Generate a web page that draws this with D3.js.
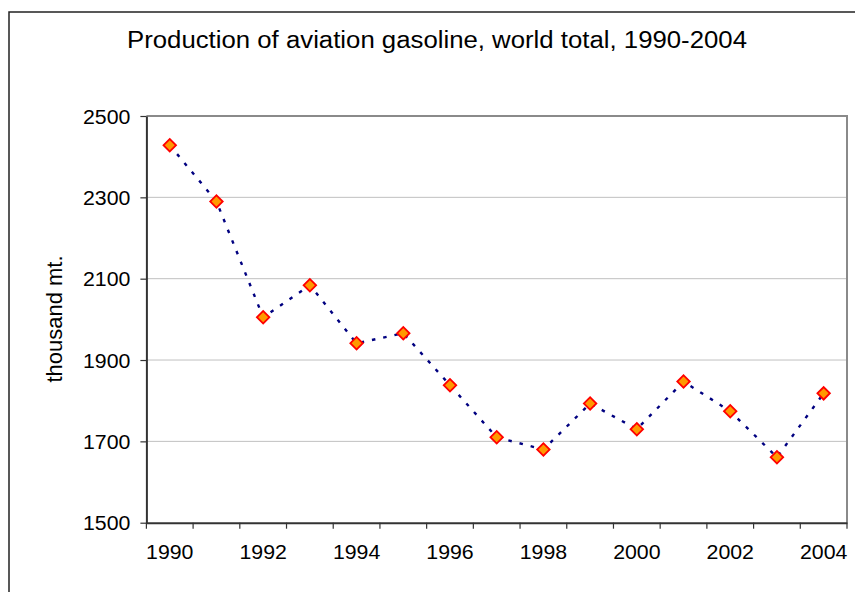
<!DOCTYPE html>
<html>
<head>
<meta charset="utf-8">
<script src="https://cdn.jsdelivr.net/npm/d3@7"></script>
<style>
  html, body { margin: 0; padding: 0; background: #fff; }
  svg { display: block; font-family: "Liberation Sans", Arial, sans-serif; }
</style>
</head>
<body>
<svg id="chart" width="855" height="592"></svg>
<script>
// World production of aviation gasoline, thousand metric tons
const years = [1990, 1991, 1992, 1993, 1994, 1995, 1996, 1997, 1998, 1999, 2000, 2001, 2002, 2003, 2004];
const production = [2428, 2290, 2005, 2084, 1941, 1966, 1838, 1710, 1680, 1793, 1730, 1847, 1774, 1661, 1818];
const yTicks = [1500, 1700, 1900, 2100, 2300, 2500];
const xTickLabels = [1990, 1992, 1994, 1996, 1998, 2000, 2002, 2004];

const titleText = "Production of aviation gasoline, world total, 1990-2004";
const yTitle = "thousand mt.";

const svg = d3.select("#chart");
const plot = { left: 146.4, right: 847, top: 116, bottom: 522.7 };

// outer chart frame (runs past the right and bottom edges)
svg.append("rect")
  .attr("x", 9).attr("y", 12)
  .attr("width", 900).attr("height", 700)
  .attr("fill", "#fff")
  .attr("stroke", "#222").attr("stroke-width", 1.5);

const x = d3.scaleBand().domain(years).range([plot.left, plot.right]);
const y = d3.scaleLinear().domain([1500, 2500]).range([plot.bottom, plot.top]);

// horizontal gridlines
svg.append("g")
  .selectAll("line")
  .data(yTicks.filter(v => v > 1500 && v < 2500))
  .join("line")
  .attr("x1", plot.left).attr("x2", plot.right)
  .attr("y1", d => y(d)).attr("y2", d => y(d))
  .attr("stroke", "#c0c0c0").attr("stroke-width", 1);

// plot area border, top and right
svg.append("path")
  .attr("d", `M${plot.left},${y(2500)}H${plot.right}V${plot.bottom}`)
  .attr("fill", "none")
  .attr("stroke", "#8a8a8a").attr("stroke-width", 2);

// y axis
const yAxis = svg.append("g")
  .attr("transform", `translate(${plot.left},0)`)
  .call(d3.axisLeft(y).tickValues(yTicks).tickSize(6).tickSizeOuter(0).tickPadding(10).tickFormat(d3.format("d")));
yAxis.select(".domain").attr("stroke", "#333").attr("stroke-width", 2);
yAxis.selectAll(".tick line").attr("stroke", "#333").attr("stroke-width", 1.2);
yAxis.selectAll(".tick text")
  .attr("class", "stretch")
  .attr("font-size", 20).attr("fill", "#000")
  .attr("font-family", "'Liberation Sans', Arial, sans-serif")
  .attr("dy", "0.36em");

// x axis: ticks sit on category boundaries, labels on every second category
const xAxis = svg.append("g")
  .attr("transform", `translate(0,${plot.bottom})`)
  .call(d3.axisBottom(x).tickValues(xTickLabels).tickSize(0).tickSizeOuter(0).tickPadding(0));
xAxis.select(".domain").attr("stroke", "#333").attr("stroke-width", 2);
xAxis.selectAll(".tick text")
  .attr("class", "stretch")
  .attr("font-size", 20).attr("fill", "#000")
  .attr("font-family", "'Liberation Sans', Arial, sans-serif")
  .attr("y", 36.6).attr("dy", null);

const boundaries = years.map(d => x(d)).concat([x.range()[1]]);
xAxis.selectAll(".boundary")
  .data(boundaries)
  .join("line")
  .attr("class", "boundary")
  .attr("x1", d => d).attr("x2", d => d)
  .attr("y1", 0).attr("y2", 6)
  .attr("stroke", "#333").attr("stroke-width", 1.2);

// data line
const cx = d => x(d) + x.bandwidth() / 2;
const line = d3.line()
  .x((d, i) => cx(years[i]))
  .y(d => y(d));

svg.append("path")
  .datum(production)
  .attr("d", line)
  .attr("fill", "none")
  .attr("stroke", "#000080")
  .attr("stroke-width", 2.4)
  .attr("stroke-dasharray", "3.5,8");

// diamond markers
const diamond = d3.symbol().type(d3.symbolSquare).size(78);
svg.append("g")
  .selectAll("path")
  .data(production)
  .join("path")
  .attr("d", diamond)
  .attr("transform", (d, i) => `translate(${cx(years[i])},${y(d)}) rotate(45)`)
  .attr("fill", "#ff9900")
  .attr("stroke", "#ff0000")
  .attr("stroke-width", 1.8);

// title
svg.append("text")
  .attr("x", 437).attr("y", 48)
  .attr("text-anchor", "middle")
  .attr("font-size", 23.5)
  .attr("fill", "#000")
  .attr("textLength", 620)
  .attr("lengthAdjust", "spacingAndGlyphs")
  .text(titleText);

// y axis title
svg.append("text")
  .attr("transform", `translate(62,319) rotate(-90)`)
  .attr("text-anchor", "middle")
  .attr("font-size", 22)
  .attr("fill", "#000")
  .text(yTitle);

// tick labels are slightly wider than the plain font renders them
svg.selectAll("text.stretch").each(function () {
  const w = this.getComputedTextLength();
  d3.select(this).attr("textLength", w * 1.065).attr("lengthAdjust", "spacingAndGlyphs");
});
</script>
</body>
</html>
